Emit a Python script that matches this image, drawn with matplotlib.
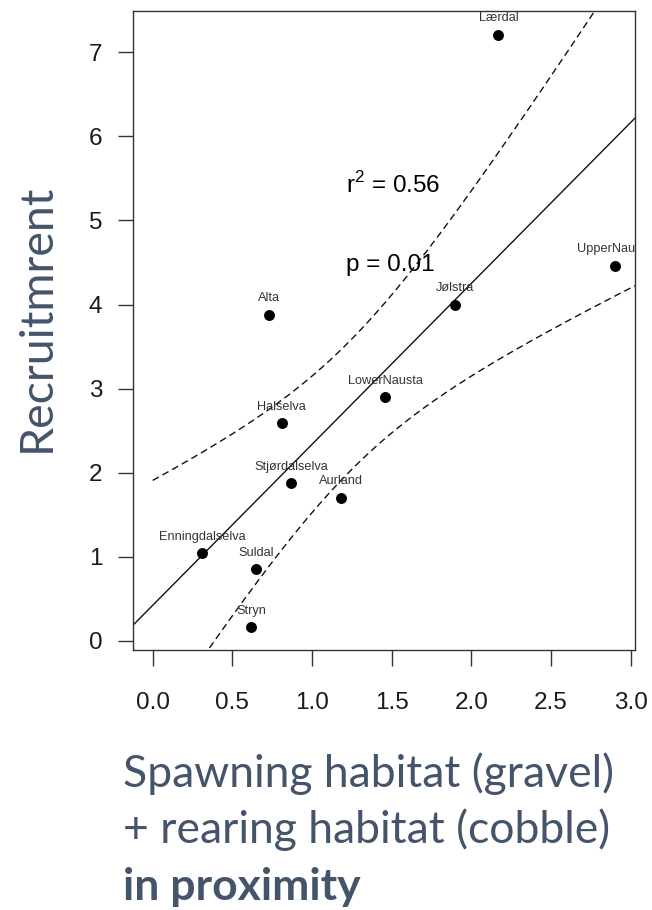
import numpy as np
import matplotlib
matplotlib.use('Agg')
import matplotlib.pyplot as plt

# data
rivers = ['Lærdal', 'UpperNausta', 'Jølstra', 'Alta', 'LowerNausta', 'Halselva',
          'Stjørdalselva', 'Aurland', 'Enningdalselva', 'Suldal', 'Stryn']
habitat = [2.17, 2.90, 1.90, 0.73, 1.46, 0.81, 0.87, 1.18, 0.31, 0.65, 0.62]
recruit = [7.21, 4.46, 4.00, 3.88, 2.90, 2.59, 1.87, 1.70, 1.04, 0.85, 0.16]

xticks = [0.0, 0.5, 1.0, 1.5, 2.0, 2.5, 3.0]
xticklabels = ['0.0', '0.5', '1.0', '1.5', '2.0', '2.5', '3.0']
yticks = [0, 1, 2, 3, 4, 5, 6, 7]

r2_text = 'r$^{\\mathregular{2}}$ = 0.56'
p_text = 'p = 0.01'
ylabel = 'Recruitmrent'
xlabel_lines = ['Spawning habitat (gravel)', '+ rearing habitat (cobble)', 'in proximity']

slate = '#44546A'
axcol = '#333333'

x = np.asarray(habitat)
y = np.asarray(recruit)

# linear fit + 90% confidence band
slope, icept = np.polyfit(x, y, 1)
n = len(x)
resid = y - (icept + slope * x)
s = np.sqrt(np.sum(resid ** 2) / (n - 2))
sxx = np.sum((x - x.mean()) ** 2)
tval = 1.833  # t(0.95, df=9)
xb = np.linspace(0.0, 3.2, 200)
fit_b = icept + slope * xb
se = s * np.sqrt(1.0 / n + (xb - x.mean()) ** 2 / sxx)

fig = plt.figure(figsize=(6.52, 9.10), dpi=100)
ax = fig.add_axes([133.4 / 652, 1 - 650 / 910, (634.7 - 133.4) / 652, (650 - 11) / 910])

ax.set_xlim(-0.121, 3.026)
ax.set_ylim(-0.113, 7.494)

xl = np.array([-0.2, 3.2])
ax.plot(xl, icept + slope * xl, color='#111111', lw=1.0)
ax.plot(xb, fit_b + tval * se, color='#111111', lw=1.0, linestyle=(0, (5, 3)))
ax.plot(xb, fit_b - tval * se, color='#111111', lw=1.0, linestyle=(0, (5, 3)))

ax.scatter(x, y, s=62, color='black', zorder=3, linewidths=0)

for name, xi, yi in zip(rivers, habitat, recruit):
    ax.annotate(name, (xi, yi), xytext=(0, 11.8), textcoords='offset points',
                ha='center', va='center', fontsize=9.2, color='#333333',
                family='Liberation Sans', annotation_clip=False, clip_on=True)

ax.text(1.213, 5.33, r2_text, fontsize=17.5, family='Liberation Sans', va='baseline', ha='left')
ax.text(1.213, 4.40, p_text, fontsize=17.5, family='Liberation Sans', va='baseline', ha='left')

ax.set_xticks(xticks)
ax.set_xticklabels(xticklabels)
ax.set_yticks(yticks)
for sp in ax.spines.values():
    sp.set_color(axcol)
    sp.set_linewidth(1.0)
ax.tick_params(axis='x', length=11.5, width=1.0, color=axcol, pad=18.5, labelsize=17.5)
ax.tick_params(axis='y', length=10.8, width=1.0, color=axcol, pad=11.5, labelsize=17.5)
for lab in ax.get_xticklabels() + ax.get_yticklabels():
    lab.set_family('Liberation Sans')
    lab.set_color('#1a1a1a')

fig.text(50 / 652, 1 - 452 / 910, ylabel, rotation=90, rotation_mode='anchor',
         ha='left', va='baseline', fontsize=33.5, family='Lato', color=slate)

ybase = [787, 843, 900]
for i, line in enumerate(xlabel_lines):
    fig.text(123 / 652, 1 - ybase[i] / 910, line, ha='left', va='baseline',
             fontsize=32, family='Lato', color=slate,
             fontweight='bold' if i == 2 else 'normal')

fig.savefig('out.png', dpi=100)
